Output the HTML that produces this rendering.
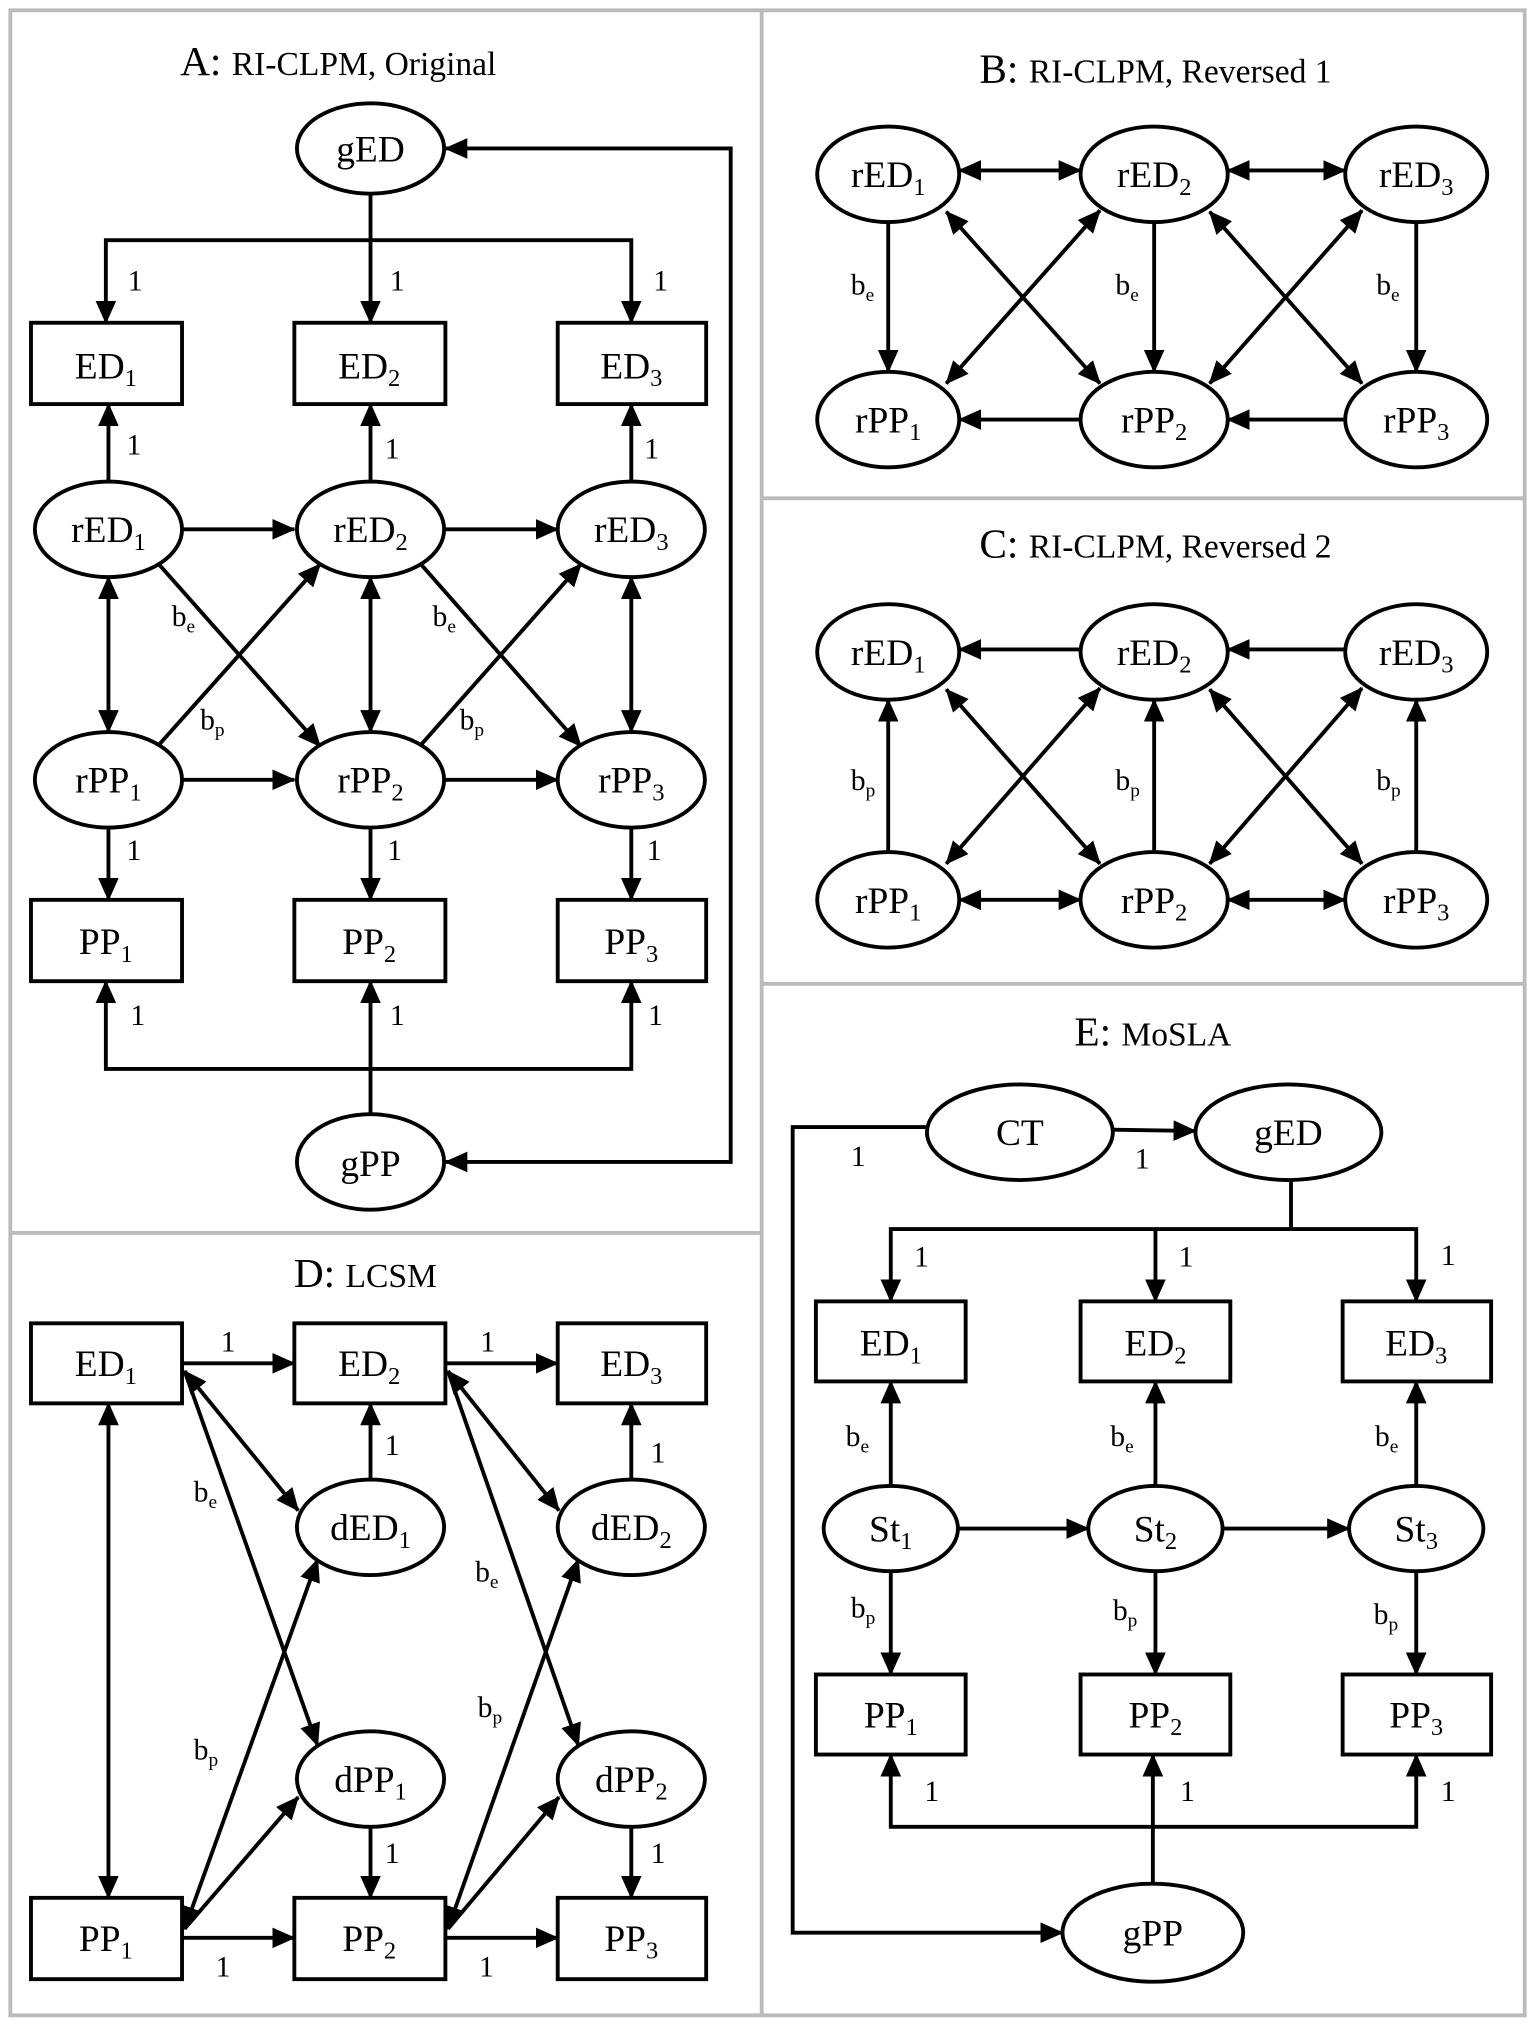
<!DOCTYPE html>
<html><head><meta charset="utf-8"><style>html,body{margin:0;padding:0;background:#fff}svg{display:block}svg text{font-family:"Liberation Serif","DejaVu Serif",serif}</style></head>
<body>
<svg width="1535" height="2025" viewBox="0 0 1189 1568.5" preserveAspectRatio="none" xmlns="http://www.w3.org/2000/svg" style="font-family:'Liberation Serif',serif">
<defs>
<marker id="a" markerUnits="userSpaceOnUse" markerWidth="18" markerHeight="16" refX="17" refY="8" orient="auto-start-reverse"><path d="M0,0 L18,8 L0,16 Z" fill="#000"/></marker>
</defs>
<rect x="0" y="0" width="1189" height="1568.5" fill="#fff"/>
<g fill="none" stroke="#bbb" stroke-width="3">
<rect x="8" y="8" width="1173" height="1553"/>
<line x1="590" y1="8" x2="590" y2="1561"/>
<line x1="8" y1="955" x2="590" y2="955"/>
<line x1="590" y1="386" x2="1181" y2="386"/>
<line x1="590" y1="762" x2="1181" y2="762"/>
</g>
<g font-size="32" text-anchor="middle" fill="#000">
<text x="262" y="58">A: <tspan font-size="26">RI-CLPM, Original</tspan></text>
<text x="895" y="64">B: <tspan font-size="26">RI-CLPM, Reversed 1</tspan></text>
<text x="895" y="432">C: <tspan font-size="26">RI-CLPM, Reversed 2</tspan></text>
<text x="283" y="997">D: <tspan font-size="26">LCSM</tspan></text>
<text x="893" y="810">E: <tspan font-size="26">MoSLA</tspan></text>
</g>
<g fill="#fff" stroke="#000" stroke-width="3">
<ellipse cx="287" cy="115" rx="57" ry="35"/>
<rect x="24" y="250" width="117" height="63"/><rect x="228" y="250" width="117" height="63"/><rect x="432" y="250" width="115" height="63"/>
<ellipse cx="84" cy="410" rx="57" ry="37"/><ellipse cx="287" cy="410" rx="57" ry="37"/><ellipse cx="489" cy="410" rx="57" ry="37"/>
<ellipse cx="84" cy="604" rx="57" ry="37"/><ellipse cx="287" cy="604" rx="57" ry="37"/><ellipse cx="489" cy="604" rx="57" ry="37"/>
<rect x="24" y="697" width="117" height="63"/><rect x="228" y="697" width="117" height="63"/><rect x="432" y="697" width="115" height="63"/>
<ellipse cx="287" cy="900" rx="57" ry="37"/>
<ellipse cx="688" cy="135" rx="55" ry="37"/><ellipse cx="894" cy="135" rx="57" ry="37"/><ellipse cx="1097" cy="135" rx="55" ry="37"/>
<ellipse cx="688" cy="325" rx="55" ry="37"/><ellipse cx="894" cy="325" rx="57" ry="37"/><ellipse cx="1097" cy="325" rx="55" ry="37"/>
<ellipse cx="688" cy="505" rx="55" ry="37"/><ellipse cx="894" cy="505" rx="57" ry="37"/><ellipse cx="1097" cy="505" rx="55" ry="37"/>
<ellipse cx="688" cy="697" rx="55" ry="37"/><ellipse cx="894" cy="697" rx="57" ry="37"/><ellipse cx="1097" cy="697" rx="55" ry="37"/>
<rect x="24" y="1025" width="117" height="62"/><rect x="228" y="1025" width="117" height="62"/><rect x="432" y="1025" width="115" height="62"/>
<ellipse cx="287" cy="1183" rx="57" ry="37"/><ellipse cx="489" cy="1183" rx="57" ry="37"/>
<ellipse cx="287" cy="1378" rx="57" ry="37"/><ellipse cx="489" cy="1378" rx="57" ry="37"/>
<rect x="24" y="1470" width="117" height="63"/><rect x="228" y="1470" width="117" height="63"/><rect x="432" y="1470" width="115" height="63"/>
<ellipse cx="790" cy="877" rx="72" ry="37"/><ellipse cx="998" cy="877" rx="72" ry="37"/>
<rect x="632" y="1008" width="116" height="62"/><rect x="837" y="1008" width="116" height="62"/><rect x="1040" y="1008" width="115" height="62"/>
<ellipse cx="690" cy="1184" rx="52" ry="33"/><ellipse cx="895" cy="1184" rx="52" ry="33"/><ellipse cx="1097" cy="1184" rx="52" ry="33"/>
<rect x="632" y="1297" width="116" height="62"/><rect x="837" y="1297" width="116" height="62"/><rect x="1040" y="1297" width="115" height="62"/>
<ellipse cx="893" cy="1497" rx="70" ry="38"/>
</g>
<g fill="none" stroke="#000" stroke-width="3">
<polyline points="287,150 287,186"/>
<polyline points="82,250 82,186 489,186 489,250" marker-start="url(#a)" marker-end="url(#a)"/>
<line x1="287" y1="186" x2="287" y2="250" marker-end="url(#a)"/>
<polyline points="345,115 566,115 566,900 345,900" marker-start="url(#a)" marker-end="url(#a)"/>
<line x1="84" y1="373" x2="84" y2="313" marker-end="url(#a)"/>
<line x1="287" y1="373" x2="287" y2="313" marker-end="url(#a)"/>
<line x1="489" y1="373" x2="489" y2="313" marker-end="url(#a)"/>
<line x1="141" y1="410" x2="228" y2="410" marker-end="url(#a)"/>
<line x1="345" y1="410" x2="432" y2="410" marker-end="url(#a)"/>
<line x1="141" y1="604" x2="228" y2="604" marker-end="url(#a)"/>
<line x1="345" y1="604" x2="432" y2="604" marker-end="url(#a)"/>
<line x1="84" y1="447" x2="84" y2="567" marker-start="url(#a)" marker-end="url(#a)"/>
<line x1="287" y1="447" x2="287" y2="567" marker-start="url(#a)" marker-end="url(#a)"/>
<line x1="489" y1="447" x2="489" y2="567" marker-start="url(#a)" marker-end="url(#a)"/>
<line x1="123" y1="437" x2="248" y2="578" marker-end="url(#a)"/>
<line x1="123" y1="577" x2="248" y2="437" marker-end="url(#a)"/>
<line x1="326" y1="437" x2="450" y2="578" marker-end="url(#a)"/>
<line x1="326" y1="577" x2="450" y2="437" marker-end="url(#a)"/>
<line x1="84" y1="641" x2="84" y2="697" marker-end="url(#a)"/>
<line x1="287" y1="641" x2="287" y2="697" marker-end="url(#a)"/>
<line x1="489" y1="641" x2="489" y2="697" marker-end="url(#a)"/>
<line x1="287" y1="863" x2="287" y2="760" marker-end="url(#a)"/>
<polyline points="82,760 82,828 489,828 489,760" marker-start="url(#a)" marker-end="url(#a)"/>
<line x1="743" y1="132" x2="837" y2="132" marker-start="url(#a)" marker-end="url(#a)"/>
<line x1="951" y1="132" x2="1042" y2="132" marker-start="url(#a)" marker-end="url(#a)"/>
<line x1="688" y1="172" x2="688" y2="288" marker-end="url(#a)"/>
<line x1="894" y1="172" x2="894" y2="288" marker-end="url(#a)"/>
<line x1="1097" y1="172" x2="1097" y2="288" marker-end="url(#a)"/>
<line x1="837" y1="325" x2="743" y2="325" marker-end="url(#a)"/>
<line x1="1042" y1="325" x2="951" y2="325" marker-end="url(#a)"/>
<line x1="733" y1="164" x2="852" y2="297" marker-start="url(#a)" marker-end="url(#a)"/>
<line x1="852" y1="163" x2="733" y2="297" marker-start="url(#a)" marker-end="url(#a)"/>
<line x1="937" y1="164" x2="1055" y2="297" marker-start="url(#a)" marker-end="url(#a)"/>
<line x1="1055" y1="163" x2="937" y2="297" marker-start="url(#a)" marker-end="url(#a)"/>
<line x1="837" y1="503" x2="743" y2="503" marker-end="url(#a)"/>
<line x1="1042" y1="503" x2="951" y2="503" marker-end="url(#a)"/>
<line x1="688" y1="660" x2="688" y2="542" marker-end="url(#a)"/>
<line x1="894" y1="660" x2="894" y2="542" marker-end="url(#a)"/>
<line x1="1097" y1="660" x2="1097" y2="542" marker-end="url(#a)"/>
<line x1="743" y1="697" x2="837" y2="697" marker-start="url(#a)" marker-end="url(#a)"/>
<line x1="951" y1="697" x2="1042" y2="697" marker-start="url(#a)" marker-end="url(#a)"/>
<line x1="733" y1="534" x2="852" y2="669" marker-start="url(#a)" marker-end="url(#a)"/>
<line x1="852" y1="533" x2="733" y2="669" marker-start="url(#a)" marker-end="url(#a)"/>
<line x1="937" y1="534" x2="1055" y2="669" marker-start="url(#a)" marker-end="url(#a)"/>
<line x1="1055" y1="533" x2="937" y2="669" marker-start="url(#a)" marker-end="url(#a)"/>
<line x1="141" y1="1056" x2="228" y2="1056" marker-end="url(#a)"/>
<line x1="345" y1="1056" x2="432" y2="1056" marker-end="url(#a)"/>
<line x1="141" y1="1501" x2="228" y2="1501" marker-end="url(#a)"/>
<line x1="345" y1="1501" x2="432" y2="1501" marker-end="url(#a)"/>
<line x1="84" y1="1087" x2="84" y2="1470" marker-start="url(#a)" marker-end="url(#a)"/>
<line x1="287" y1="1146" x2="287" y2="1087" marker-end="url(#a)"/>
<line x1="489" y1="1146" x2="489" y2="1087" marker-end="url(#a)"/>
<line x1="287" y1="1415" x2="287" y2="1470" marker-end="url(#a)"/>
<line x1="489" y1="1415" x2="489" y2="1470" marker-end="url(#a)"/>
<line x1="143" y1="1062" x2="231" y2="1170" marker-start="url(#a)" marker-end="url(#a)"/>
<line x1="143" y1="1062" x2="246" y2="1352" marker-end="url(#a)"/>
<line x1="143" y1="1494" x2="246" y2="1208" marker-start="url(#a)" marker-end="url(#a)"/>
<line x1="143" y1="1494" x2="231" y2="1392" marker-end="url(#a)"/>
<line x1="347" y1="1062" x2="433" y2="1170" marker-start="url(#a)" marker-end="url(#a)"/>
<line x1="347" y1="1062" x2="448" y2="1352" marker-end="url(#a)"/>
<line x1="347" y1="1494" x2="448" y2="1208" marker-start="url(#a)" marker-end="url(#a)"/>
<line x1="347" y1="1494" x2="433" y2="1392" marker-end="url(#a)"/>
<line x1="862" y1="875" x2="926" y2="876" marker-end="url(#a)"/>
<polyline points="718,873 614,873 614,1497 823,1497" marker-end="url(#a)"/>
<line x1="1000" y1="914" x2="1000" y2="952"/>
<polyline points="690,1008 690,952 1097,952 1097,1008" marker-start="url(#a)" marker-end="url(#a)"/>
<line x1="895" y1="952" x2="895" y2="1008" marker-end="url(#a)"/>
<line x1="690" y1="1151" x2="690" y2="1070" marker-end="url(#a)"/>
<line x1="895" y1="1151" x2="895" y2="1070" marker-end="url(#a)"/>
<line x1="1097" y1="1151" x2="1097" y2="1070" marker-end="url(#a)"/>
<line x1="690" y1="1217" x2="690" y2="1297" marker-end="url(#a)"/>
<line x1="895" y1="1217" x2="895" y2="1297" marker-end="url(#a)"/>
<line x1="1097" y1="1217" x2="1097" y2="1297" marker-end="url(#a)"/>
<line x1="742" y1="1184" x2="843" y2="1184" marker-end="url(#a)"/>
<line x1="947" y1="1184" x2="1045" y2="1184" marker-end="url(#a)"/>
<line x1="893" y1="1459" x2="893" y2="1359" marker-end="url(#a)"/>
<polyline points="690,1359 690,1415 1097,1415 1097,1359" marker-start="url(#a)" marker-end="url(#a)"/>
</g>
<g font-size="29" text-anchor="middle" fill="#000">
<text x="287" y="125">gED</text>
<text x="287" y="911">gPP</text>
<text x="790" y="887">CT</text><text x="998" y="887">gED</text>
<text x="893" y="1507">gPP</text>
<text x="82" y="293">ED<tspan font-size="19" dy="6">1</tspan></text>
<text x="286" y="293">ED<tspan font-size="19" dy="6">2</tspan></text>
<text x="489" y="293">ED<tspan font-size="19" dy="6">3</tspan></text>
<text x="84" y="420">rED<tspan font-size="19" dy="6">1</tspan></text>
<text x="287" y="420">rED<tspan font-size="19" dy="6">2</tspan></text>
<text x="489" y="420">rED<tspan font-size="19" dy="6">3</tspan></text>
<text x="84" y="614">rPP<tspan font-size="19" dy="6">1</tspan></text>
<text x="287" y="614">rPP<tspan font-size="19" dy="6">2</tspan></text>
<text x="489" y="614">rPP<tspan font-size="19" dy="6">3</tspan></text>
<text x="82" y="739">PP<tspan font-size="19" dy="6">1</tspan></text>
<text x="286" y="739">PP<tspan font-size="19" dy="6">2</tspan></text>
<text x="489" y="739">PP<tspan font-size="19" dy="6">3</tspan></text>
<text x="688" y="145">rED<tspan font-size="19" dy="6">1</tspan></text>
<text x="894" y="145">rED<tspan font-size="19" dy="6">2</tspan></text>
<text x="1097" y="145">rED<tspan font-size="19" dy="6">3</tspan></text>
<text x="688" y="335">rPP<tspan font-size="19" dy="6">1</tspan></text>
<text x="894" y="335">rPP<tspan font-size="19" dy="6">2</tspan></text>
<text x="1097" y="335">rPP<tspan font-size="19" dy="6">3</tspan></text>
<text x="688" y="515">rED<tspan font-size="19" dy="6">1</tspan></text>
<text x="894" y="515">rED<tspan font-size="19" dy="6">2</tspan></text>
<text x="1097" y="515">rED<tspan font-size="19" dy="6">3</tspan></text>
<text x="688" y="707">rPP<tspan font-size="19" dy="6">1</tspan></text>
<text x="894" y="707">rPP<tspan font-size="19" dy="6">2</tspan></text>
<text x="1097" y="707">rPP<tspan font-size="19" dy="6">3</tspan></text>
<text x="82" y="1066">ED<tspan font-size="19" dy="6">1</tspan></text>
<text x="286" y="1066">ED<tspan font-size="19" dy="6">2</tspan></text>
<text x="489" y="1066">ED<tspan font-size="19" dy="6">3</tspan></text>
<text x="287" y="1193">dED<tspan font-size="19" dy="6">1</tspan></text>
<text x="489" y="1193">dED<tspan font-size="19" dy="6">2</tspan></text>
<text x="287" y="1388">dPP<tspan font-size="19" dy="6">1</tspan></text>
<text x="489" y="1388">dPP<tspan font-size="19" dy="6">2</tspan></text>
<text x="82" y="1511">PP<tspan font-size="19" dy="6">1</tspan></text>
<text x="286" y="1511">PP<tspan font-size="19" dy="6">2</tspan></text>
<text x="489" y="1511">PP<tspan font-size="19" dy="6">3</tspan></text>
<text x="690" y="1050">ED<tspan font-size="19" dy="6">1</tspan></text>
<text x="895" y="1050">ED<tspan font-size="19" dy="6">2</tspan></text>
<text x="1097" y="1050">ED<tspan font-size="19" dy="6">3</tspan></text>
<text x="690" y="1194">St<tspan font-size="19" dy="6">1</tspan></text>
<text x="895" y="1194">St<tspan font-size="19" dy="6">2</tspan></text>
<text x="1097" y="1194">St<tspan font-size="19" dy="6">3</tspan></text>
<text x="690" y="1338">PP<tspan font-size="19" dy="6">1</tspan></text>
<text x="895" y="1338">PP<tspan font-size="19" dy="6">2</tspan></text>
<text x="1097" y="1338">PP<tspan font-size="19" dy="6">3</tspan></text>
</g>
<g font-size="23" fill="#000">
<text x="99" y="225">1</text><text x="302" y="225">1</text><text x="506" y="225">1</text>
<text x="98" y="352">1</text><text x="298" y="355">1</text><text x="499" y="355">1</text>
<text x="133" y="485">b<tspan font-size="15" dy="5">e</tspan></text>
<text x="335" y="485">b<tspan font-size="15" dy="5">e</tspan></text>
<text x="155" y="565">b<tspan font-size="15" dy="5">p</tspan></text>
<text x="356" y="565">b<tspan font-size="15" dy="5">p</tspan></text>
<text x="98" y="666">1</text><text x="300" y="666">1</text><text x="501" y="666">1</text>
<text x="101" y="794">1</text><text x="302" y="794">1</text><text x="502" y="794">1</text>
<text x="659" y="228">b<tspan font-size="15" dy="5">e</tspan></text>
<text x="864" y="228">b<tspan font-size="15" dy="5">e</tspan></text>
<text x="1066" y="228">b<tspan font-size="15" dy="5">e</tspan></text>
<text x="659" y="612">b<tspan font-size="15" dy="5">p</tspan></text>
<text x="864" y="612">b<tspan font-size="15" dy="5">p</tspan></text>
<text x="1066" y="612">b<tspan font-size="15" dy="5">p</tspan></text>
<text x="171" y="1047">1</text><text x="372" y="1047">1</text>
<text x="298" y="1127">1</text><text x="504" y="1133">1</text>
<text x="150" y="1163">b<tspan font-size="15" dy="5">e</tspan></text>
<text x="368" y="1225">b<tspan font-size="15" dy="5">e</tspan></text>
<text x="150" y="1363">b<tspan font-size="15" dy="5">p</tspan></text>
<text x="370" y="1330">b<tspan font-size="15" dy="5">p</tspan></text>
<text x="298" y="1443">1</text><text x="504" y="1443">1</text>
<text x="167" y="1531">1</text><text x="371" y="1531">1</text>
<text x="659" y="903">1</text><text x="879" y="905">1</text>
<text x="708" y="981">1</text><text x="913" y="981">1</text><text x="1116" y="980">1</text>
<text x="655" y="1120">b<tspan font-size="15" dy="5">e</tspan></text>
<text x="860" y="1120">b<tspan font-size="15" dy="5">e</tspan></text>
<text x="1065" y="1120">b<tspan font-size="15" dy="5">e</tspan></text>
<text x="659" y="1253">b<tspan font-size="15" dy="5">p</tspan></text>
<text x="862" y="1255">b<tspan font-size="15" dy="5">p</tspan></text>
<text x="1064" y="1258">b<tspan font-size="15" dy="5">p</tspan></text>
<text x="716" y="1395">1</text><text x="914" y="1395">1</text><text x="1116" y="1395">1</text>
</g>
</svg>
</body></html>
